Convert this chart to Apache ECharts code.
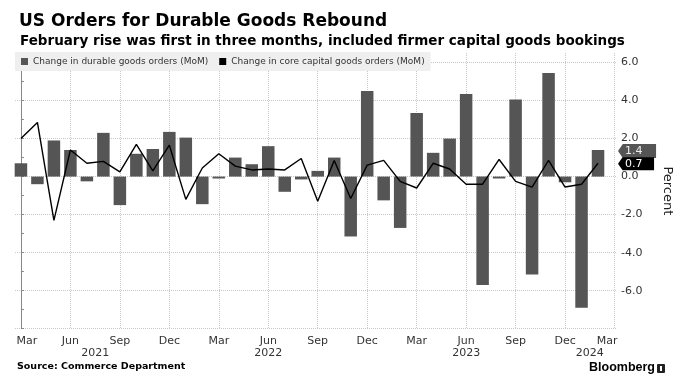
<!DOCTYPE html>
<html><head><meta charset="utf-8">
<script src="https://cdn.jsdelivr.net/npm/echarts@6/dist/echarts.min.js"></script>
<style>html,body{margin:0;padding:0;background:#fff}#c{width:682px;height:385px}</style>
</head><body><div id="c"></div>
<script>
const months = ['Mar 2021','Apr 2021','May 2021','Jun 2021','Jul 2021','Aug 2021','Sep 2021','Oct 2021','Nov 2021','Dec 2021',
  'Jan 2022','Feb 2022','Mar 2022','Apr 2022','May 2022','Jun 2022','Jul 2022','Aug 2022','Sep 2022','Oct 2022','Nov 2022','Dec 2022',
  'Jan 2023','Feb 2023','Mar 2023','Apr 2023','May 2023','Jun 2023','Jul 2023','Aug 2023','Sep 2023','Oct 2023','Nov 2023','Dec 2023',
  'Jan 2024','Feb 2024'];
const durableGoods = [0.7,-0.4,1.9,1.4,-0.25,2.3,-1.5,1.2,1.45,2.35,
  2.05,-1.45,-0.1,1.0,0.65,1.6,-0.8,-0.15,0.3,1.0,-3.15,4.5,
  -1.25,-2.7,3.35,1.25,2.0,4.35,-5.7,-0.1,4.05,-5.15,5.45,-0.3,
  -6.9,1.4];
const coreCapital = [2.0,2.85,-2.3,1.4,0.7,0.8,0.25,1.7,0.3,1.65,
  -1.2,0.45,1.2,0.55,0.35,0.4,0.35,0.95,-1.3,0.85,-1.15,0.6,
  0.85,-0.25,-0.6,0.7,0.4,-0.4,-0.4,0.9,-0.25,-0.55,0.85,-0.55,
  -0.4,0.7];
const tickLabels = ['Mar','Jun','Sep','Dec','Mar','Jun','Sep','Dec','Mar','Jun','Sep','Dec','Mar'];
const yearLabels = ['2021','2022','2023','2024'];
const yearPos = [4.5, 15, 27, 34.5];
const seriesNames = ['Change in durable goods orders (MoM)','Change in core capital goods orders (MoM)'];

const FONT = 'DejaVu Sans';
const last = months.length - 1;
const chart = echarts.init(document.getElementById('c'), null, {renderer:'canvas'});
const tagPath = 'path://M0,7 L5,0 L40,0 L40,14 L5,14 Z';
const option = {
  animation: false,
  backgroundColor: '#fff',
  textStyle: {fontFamily: FONT},
  title: [
    {text: 'US Orders for Durable Goods Rebound', left: 14, top: 8,
      textStyle: {fontFamily: FONT, fontSize: 17, fontWeight: 'bold', color: '#000'}},
    {text: 'February rise was first in three months, included firmer capital goods bookings', left: 15, top: 29,
      textStyle: {fontFamily: FONT, fontSize: 13.5, fontWeight: 'bold', color: '#000'}}
  ],
  legend: {
    left: 15, top: 52, padding: [5, 6, 5, 6], itemWidth: 7, itemHeight: 7, itemGap: 11,
    backgroundColor: '#efefef',
    data: [{name: seriesNames[0], icon: 'rect'}, {name: seriesNames[1], icon: 'rect'}],
    textStyle: {fontFamily: FONT, fontSize: 9, color: '#333'}, z: 20
  },
  grid: {left: 15, right: 63.5, top: 53, bottom: 56.3},
  xAxis: {
    type: 'value', min: -0.36, max: 36.15, splitNumber: 12,
    axisLine: {show: false}, axisTick: {show: false},
    axisLabel: {
      margin: 7, color: '#333', fontSize: 11, fontFamily: FONT,
      formatter: function (v) {
        const r = Math.round(v);
        if (Math.abs(v - r) > 1e-6 || r % 3 !== 0) return '';
        const k = r / 3;
        if (k === 0) return '{first|' + tickLabels[k] + '}';
        if (k === tickLabels.length - 1) return '{last|' + tickLabels[k] + '}';
        return tickLabels[k] || '';
      },
      rich: {
        first: {padding: [0, 0, 0, 12], fontSize: 11, fontFamily: FONT, color: '#333'},
        last: {padding: [0, 15, 0, 0], fontSize: 11, fontFamily: FONT, color: '#333'}
      }
    },
    splitLine: {show: true, showMinLine: false, showMaxLine: false, lineStyle: {type: 'dotted', color: '#c8c8c8'}}
  },
  yAxis: {
    type: 'value', position: 'right', min: -8, max: 6.5, interval: 2,
    name: 'Percent', nameLocation: 'middle', nameRotate: -90, nameGap: 44,
    nameTextStyle: {fontFamily: FONT, fontSize: 13, color: '#222'},
    axisLine: {show: true, lineStyle: {color: '#888'}},
    axisTick: {show: true, length: 3, lineStyle: {color: '#888'}},
    minorTick: {show: true, splitNumber: 2, length: 3, lineStyle: {color: '#888'}},
    axisLabel: {margin: 4, color: '#333', fontSize: 11, fontFamily: FONT, showMaxLabel: false, showMinLabel: false,
      formatter: v => v.toFixed(1)},
    splitLine: {show: true, showMaxLine: false, lineStyle: {type: 'dotted', color: '#c8c8c8'}}
  },
  series: [
    {
      name: seriesNames[0], type: 'bar', barWidth: 12.5,
      itemStyle: {color: '#555'},
      data: durableGoods.map((v, i) => [i, v]),
      markPoint: {
        z: 30, symbol: tagPath, symbolSize: [38, 14], symbolOffset: [39, 1],
        itemStyle: {color: '#555'},
        label: {show: true, position: 'insideLeft', distance: 7, color: '#eee', fontSize: 11, fontFamily: FONT,
          formatter: p => p.value.toFixed(1)},
        data: [{coord: [last, durableGoods[last]], value: durableGoods[last]}]
      }
    },
    {
      name: seriesNames[1], type: 'line', symbol: 'none',
      itemStyle: {color: '#000'}, lineStyle: {color: '#000', width: 1.4},
      data: coreCapital.map((v, i) => [i, v]), z: 5,
      markPoint: {
        z: 31, symbol: tagPath, symbolSize: [36, 13], symbolOffset: [38, 0.5],
        itemStyle: {color: '#000'},
        label: {show: true, position: 'insideLeft', distance: 7, color: '#fff', fontSize: 11, fontFamily: FONT,
          formatter: p => p.value.toFixed(1)},
        data: [{coord: [last, coreCapital[last]], value: coreCapital[last]}]
      }
    },
    {
      type: 'custom', silent: true, clip: false, z: 10,
      data: yearPos.map(p => [p, -8]),
      renderItem: function (params, api) {
        const pt = api.coord([api.value(0), api.value(1)]);
        return {type: 'text', x: pt[0], y: pt[1] + 24,
          style: {text: yearLabels[params.dataIndex], fill: '#333', font: '11px ' + FONT, align: 'center', verticalAlign: 'middle'}};
      }
    }
  ],
  graphic: [
    {type: 'text', left: 17, top: 362, style: {text: 'Source: Commerce Department', fill: '#000', font: 'bold 9.5px ' + FONT}},
    {type: 'text', left: 589, top: 361, style: {text: 'Bloomberg', fill: '#000', font: 'bold 12.5px "Liberation Sans"'}},
    {type: 'rect', left: 657, top: 364, shape: {width: 8, height: 9, r: 1}, style: {fill: '#222'}},
    {type: 'rect', left: 660, top: 366, shape: {width: 2, height: 5}, style: {fill: '#fff'}}
  ]
};
chart.setOption(option);
</script></body></html>
